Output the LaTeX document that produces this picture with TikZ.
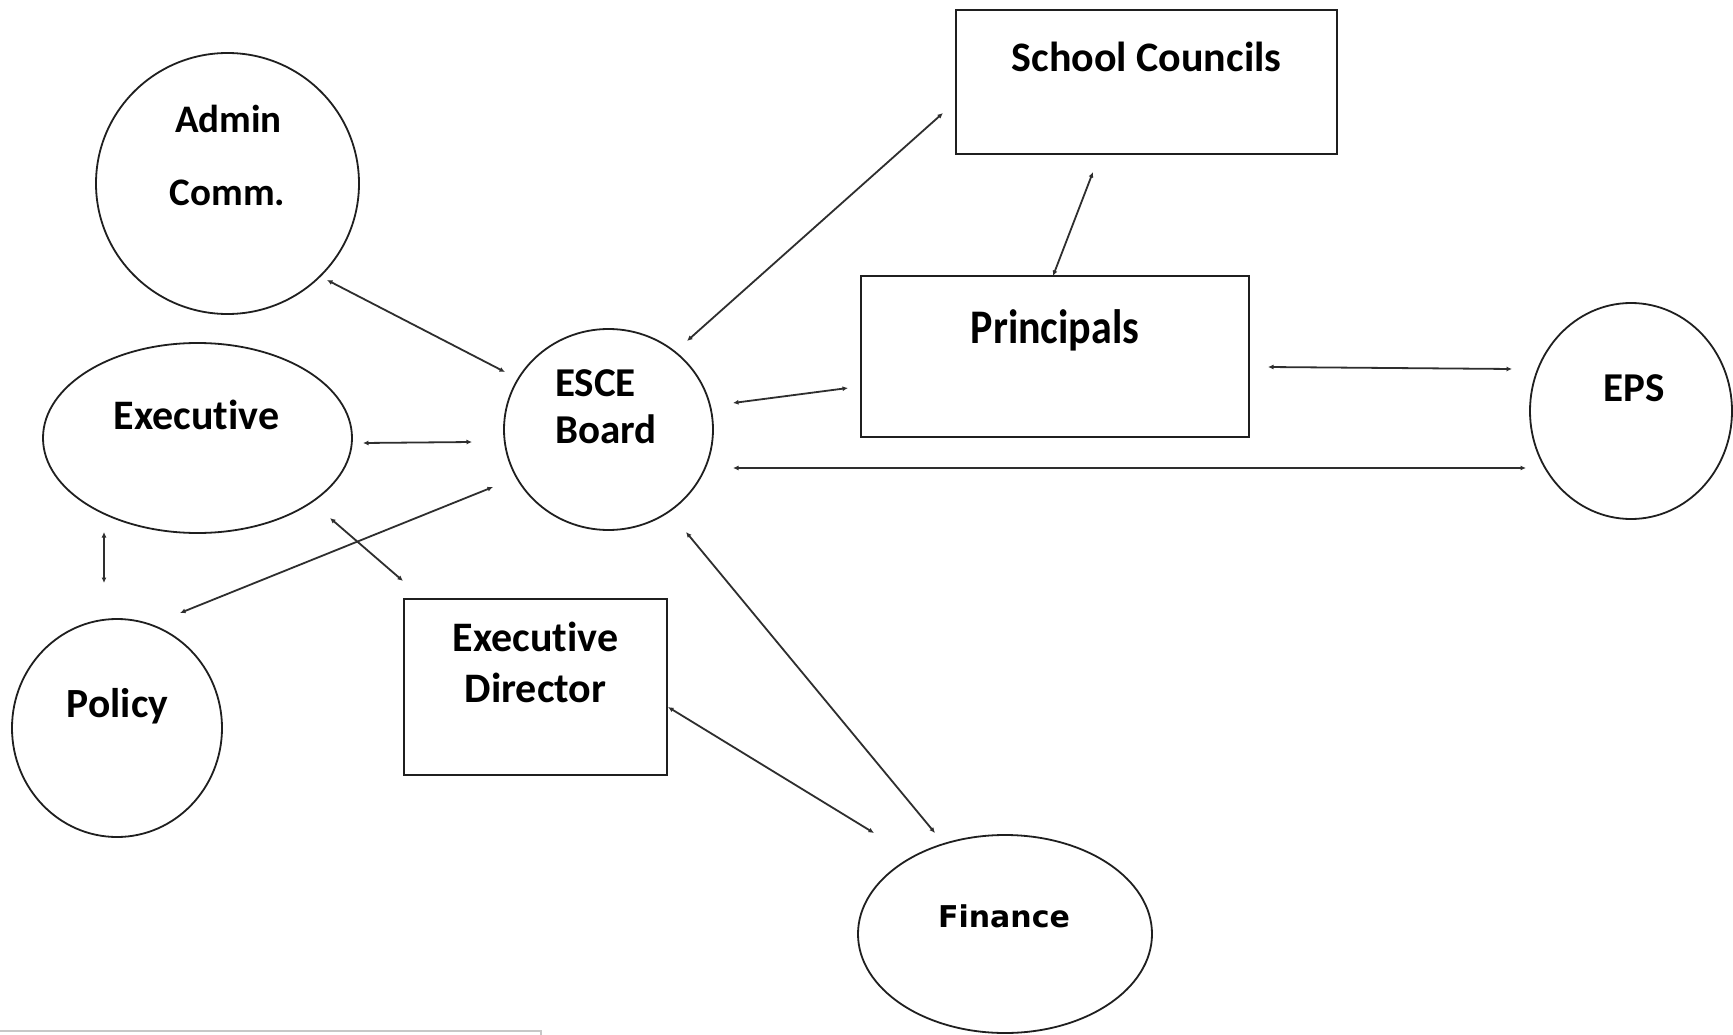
\documentclass[tikz,border=0pt]{standalone}
\usepackage{fontspec}
\setmainfont{Carlito}[Ligatures=NoCommon]
\newfontfamily\djv{DejaVu Sans}
\usetikzlibrary{shapes.geometric,arrows.meta}
\begin{document}
\begin{tikzpicture}[x=1pt,y=-1pt,
  shp/.style={draw=black!88,line width=1.8pt,inner sep=0pt,outer sep=0pt},
  oval/.style={shp,ellipse},
  box/.style={shp,rectangle},
  lbl/.style={anchor=base,inner sep=0pt,font=\bfseries\fontsize{42}{42}\selectfont},
  conn/.style={line width=1.8pt,draw=black!82,{Latex[length=5.5pt,width=5pt]}-{Latex[length=5.5pt,width=5pt]}}]
\fill[white] (0,0) rectangle (1733,1035);
\useasboundingbox (0,0) rectangle (1733,1035);

% shapes
\node[oval,minimum width=263pt,minimum height=261pt] (admin) at (227.5,183.5) {};
\node[oval,minimum width=309pt,minimum height=190pt] (exec) at (197.5,438) {};
\node[oval,minimum width=210pt,minimum height=218pt] (policy) at (117,728) {};
\node[oval,minimum width=209pt,minimum height=201pt] (esce) at (608.5,429.5) {};
\node[oval,minimum width=202pt,minimum height=216pt] (eps) at (1631,411) {};
\node[oval,minimum width=294pt,minimum height=198pt] (finance) at (1005,934) {};
\node[box,minimum width=381pt,minimum height=144pt] (school) at (1146.5,82) {};
\node[box,minimum width=388pt,minimum height=161pt] (principals) at (1055,356.5) {};
\node[box,minimum width=263pt,minimum height=176pt] (ed) at (535.5,687) {};

% texts
\node[lbl,font=\bfseries\fontsize{39}{39}\selectfont] (admin-t1) at (228.5,133) {Admin};
\node[lbl,font=\bfseries\fontsize{39}{39}\selectfont] (admin-t2) at (227.5,206) {Comm.};
\node[lbl] (exec-t) at (196.5,429) {Execut\kern0pt ive};
\node[lbl,font=\bfseries\fontsize{41.5}{41.5}\selectfont] (policy-t) at (117.5,717) {Policy};
\node[lbl,anchor=base west,font=\bfseries\fontsize{41}{41}\selectfont] (esce-t1) at (555,396) {ESCE};
\node[lbl,anchor=base west,font=\bfseries\fontsize{41}{41}\selectfont] (esce-t2) at (555,443) {Board};
\node[lbl] (ed-t1) at (535.5,651) {Execut\kern0pt ive};
\node[lbl] (ed-t2) at (535.5,702) {Director};
\node[lbl] (school-t) at (1146.5,72) {School Councils};
\node[lbl] (principals-t) at (1055,343) {\scalebox{1}[1.15]{Principals}};
\node[lbl,font=\bfseries\fontsize{41}{41}\selectfont] (eps-t) at (1634.5,401) {EPS};
\node[lbl,font=\djv\bfseries\fontsize{30}{30}\selectfont] (finance-t) at (1004,927) {Finance};

% connector end points
\coordinate (admin-e) at (327,280);   \coordinate (esce-a) at (505,372);
\coordinate (exec-e) at (363,443);    \coordinate (esce-x) at (472,442);
\coordinate (policy-e) at (180,613);  \coordinate (esce-p) at (493,487);
\coordinate (exec-d) at (330,518);    \coordinate (ed-x) at (403,581);
\coordinate (exec-p) at (104,532);    \coordinate (policy-x) at (104,583);
\coordinate (esce-s) at (687,341);    \coordinate (school-e) at (943,113);
\coordinate (esce-r) at (733,403);    \coordinate (principals-e) at (848,388);
\coordinate (esce-q) at (733,468);    \coordinate (eps-e) at (1526,468);
\coordinate (principals-s) at (1053,276); \coordinate (school-p) at (1093,172);
\coordinate (principals-q) at (1268,367); \coordinate (eps-p) at (1512,369);
\coordinate (ed-f) at (668,707);      \coordinate (finance-d) at (874,833);
\coordinate (esce-f) at (686,532);    \coordinate (finance-e) at (935,833);

% connectors
\draw[conn] (admin-e) -- (esce-a);
\draw[conn] (exec-e) -- (esce-x);
\draw[conn] (policy-e) -- (esce-p);
\draw[conn] (exec-d) -- (ed-x);
\draw[conn] (exec-p) -- (policy-x);
\draw[conn] (esce-s) -- (school-e);
\draw[conn] (esce-r) -- (principals-e);
\draw[conn] (esce-q) -- (eps-e);
\draw[conn] (principals-s) -- (school-p);
\draw[conn] (principals-q) -- (eps-p);
\draw[conn] (ed-f) -- (finance-d);
\draw[conn] (esce-f) -- (finance-e);

% faint edge line at bottom left
\draw[black!22,line width=2pt] (0,1031) -- (541,1031) -- (541,1035);
\end{tikzpicture}
\end{document}
